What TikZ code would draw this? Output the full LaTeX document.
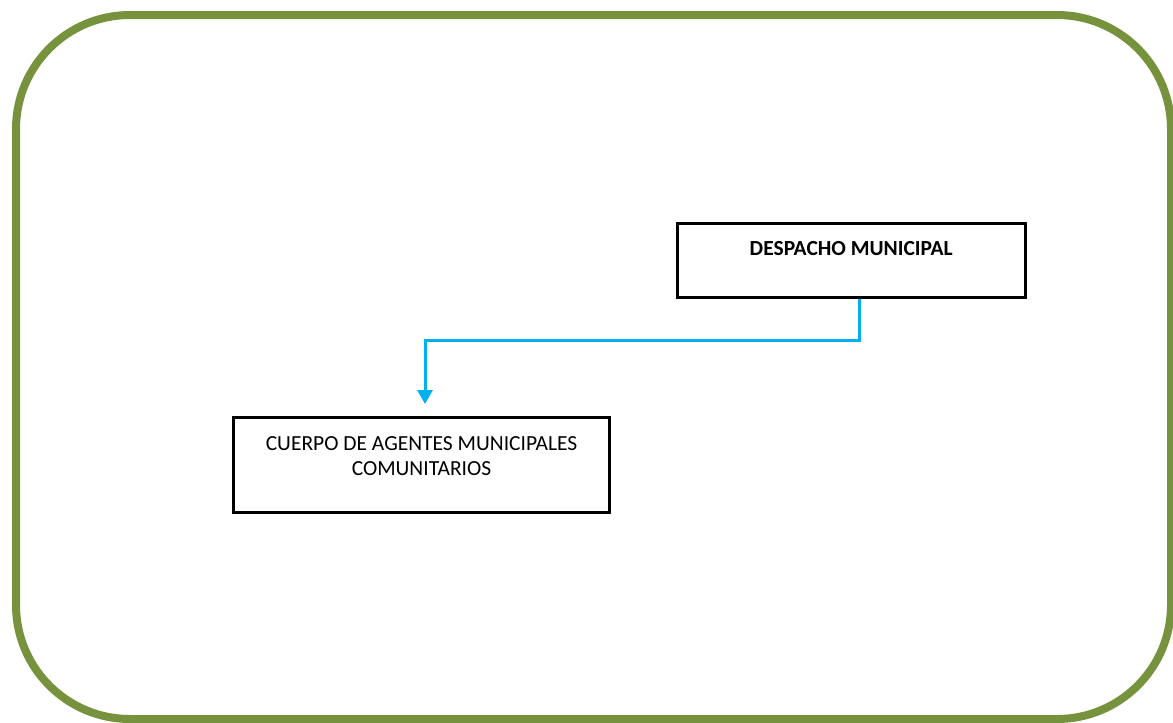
\documentclass[tikz,border=0pt]{standalone}
\usepackage{fontspec}
\setmainfont{Carlito}
\usetikzlibrary{arrows.meta}
\definecolor{frameolive}{RGB}{118,146,60}
\definecolor{linkcyan}{RGB}{0,176,240}
\tikzset{
  orgbox/.style={draw=black, line width=1.5pt, rectangle, inner sep=0pt},
  boxtext/.style={font=\fontsize{10.75pt}{12.5pt}\selectfont, align=center, inner sep=0pt},
  conn/.style={draw=linkcyan, line width=1.5pt,
    -{Triangle[width=7.5pt,length=7pt]}},
}
\begin{document}
\begin{tikzpicture}[x=0.5pt,y=-0.5pt]
  \useasboundingbox (0,0) rectangle (1173,723);
  \begin{scope}
    \clip (0,0) rectangle (1173,723);
    % outer rounded frame
    \draw[frameolive, line width=4pt, rounded corners=57pt]
      (16,15) rectangle (1171,719);
  \end{scope}

  % boxes
  \node[orgbox, minimum width=173.75pt, minimum height=36.75pt]
    (desp) at (851.25,260.25) {};
  \node[boxtext, font=\bfseries\fontsize{10.75pt}{12.5pt}\selectfont]
    (desptext) at (851.25,249) {DESPACHO MUNICIPAL};

  \node[orgbox, minimum width=188pt, minimum height=47.5pt]
    (cuerpo) at (421.5,465) {};
  \node[boxtext] (cuerpotext) at (421.5,456)
    {CUERPO DE AGENTES MUNICIPALES\\COMUNITARIOS};

  % connector
  \coordinate (tip) at (425,404);
  \draw[conn] ([xshift=4pt]desp.south) -- ++(0,42) -| (tip);
\end{tikzpicture}
\end{document}
